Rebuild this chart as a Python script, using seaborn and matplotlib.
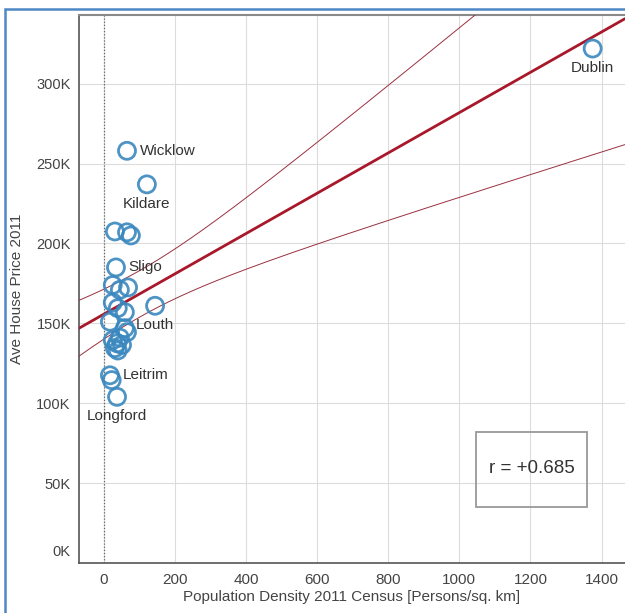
import matplotlib.pyplot as plt
import matplotlib.patches as patches
from matplotlib.transforms import ScaledTranslation
import numpy
import pandas
import seaborn as sns

# counties: population density 2011 vs average house price (thousands)
county = ["Dublin", "Wicklow", "Kildare", "", "", "", "Sligo", "Louth",
          "", "", "", "", "", "", "", "", "", "", "", "", "", "", "",
          "Leitrim", "", "Longford"]
density = [1375, 65, 121, 31, 65, 76, 34, 144,
           25, 68, 45, 25, 39, 59, 17, 59, 65, 45, 37, 31, 39, 51, 25,
           17, 22, 37]
price = [322, 258, 237, 207.5, 207, 205, 185, 161,
         174, 172.5, 171, 163, 159.5, 157, 151, 147, 144.5, 141, 137.5, 134.5, 133, 136.5, 139.5,
         117.5, 114.5, 104]

xticks = [0, 200, 400, 600, 800, 1000, 1200, 1400]
yticks = [0, 50, 100, 150, 200, 250, 300]
yticklabels = ["0K", "50K", "100K", "150K", "200K", "250K", "300K"]
r_text = "r = +0.685"

df = pandas.DataFrame({"county": county, "density": density, "price": price})

sns.set_style("white")
plt.rcParams["font.family"] = ["Liberation Sans", "DejaVu Sans"]

fig = plt.figure(figsize=(6.25, 6.13), dpi=100)
ax = fig.add_axes([79 / 625, 50 / 613, 546 / 625, 548 / 613])
xlo, xhi = -70, 1466
ax.set_xlim(xlo, xhi)
ax.set_ylim(0, 343)

ax.grid(True, color="#dcdcdc", linewidth=0.8)
ax.set_axisbelow(True)
ax.axvline(0, color="#666666", linestyle=(0, (1, 1.5)), linewidth=0.9, zorder=1)

# least squares fit + 95% confidence band of the mean
x = df["density"].to_numpy(dtype=float)
y = df["price"].to_numpy(dtype=float)
n = len(x)
slope, icpt = numpy.polyfit(x, y, 1)
resid = y - (icpt + slope * x)
s = numpy.sqrt((resid ** 2).sum() / (n - 2))
sxx = ((x - x.mean()) ** 2).sum()
xs = numpy.linspace(xlo, xhi, 300)
fit = icpt + slope * xs
hw = 2.064 * s * numpy.sqrt(1 / n + (xs - x.mean()) ** 2 / sxx)
ax.plot(xs, fit, color="#a8182a", linewidth=2.0, zorder=3)
ax.plot(xs, fit + hw, color="#9a3040", linewidth=0.7, zorder=3)
ax.plot(xs, fit - hw, color="#9a3040", linewidth=0.7, zorder=3)

sns.scatterplot(data=df, x="density", y="price", ax=ax, s=150, marker="o",
                facecolor="none", edgecolor="#3a88bf", linewidth=2.0,
                alpha=0.9, zorder=4, legend=False)

place = {"Dublin": "below", "Wicklow": "right", "Kildare": "below",
         "Sligo": "right", "Louth": "below", "Leitrim": "right",
         "Longford": "below"}
for _, row in df[df["county"] != ""].iterrows():
    if place[row["county"]] == "right":
        ax.annotate(row["county"], (row["density"], row["price"]),
                    xytext=(9, 0), textcoords="offset points",
                    ha="left", va="center", fontsize=11, color="#333333", zorder=5)
    else:
        ax.annotate(row["county"], (row["density"], row["price"]),
                    xytext=(0, -14), textcoords="offset points",
                    ha="center", va="center", fontsize=11, color="#333333", zorder=5)

ax.set_xticks(xticks)
ax.set_yticks(yticks)
ax.set_yticklabels(yticklabels)
ax.tick_params(axis="both", labelsize=10.5, labelcolor="#444444", colors="#777777")
ax.tick_params(axis="x", labelsize=11, length=0, pad=7)
ax.tick_params(axis="y", length=4, width=0.8, pad=2)
lab0 = ax.get_yticklabels()[0]
lab0.set_transform(lab0.get_transform() + ScaledTranslation(0, 12 / 100, fig.dpi_scale_trans))

ax.set_xlabel("Population Density 2011 Census [Persons/sq. km]", fontsize=11,
              color="#444444", labelpad=2)
ax.set_ylabel("Ave House Price 2011", fontsize=11, color="#444444", labelpad=9)

for side in ["left", "bottom"]:
    ax.spines[side].set_color("#555555")
    ax.spines[side].set_linewidth(1.2)
ax.spines["top"].set_color("#8a8a8a")
ax.spines["top"].set_linewidth(1.5)
ax.spines["right"].set_visible(False)

# r value box
ax.add_patch(patches.Rectangle((0.727, 0.102), 0.203, 0.137, transform=ax.transAxes,
                               fill=False, edgecolor="#999999", linewidth=1.3, zorder=5))
ax.text(0.829, 0.172, r_text, transform=ax.transAxes, ha="center", va="center",
        fontsize=13.5, color="#333333", zorder=6)

# blue frame around the panel
fig.add_artist(patches.Rectangle((5 / 625, -0.1), 1.2, 1 - 9 / 613 + 0.1,
                                 transform=fig.transFigure, fill=False,
                                 edgecolor="#4f86c6", linewidth=1.8, clip_on=False))

fig.savefig("out.png", dpi=100)
